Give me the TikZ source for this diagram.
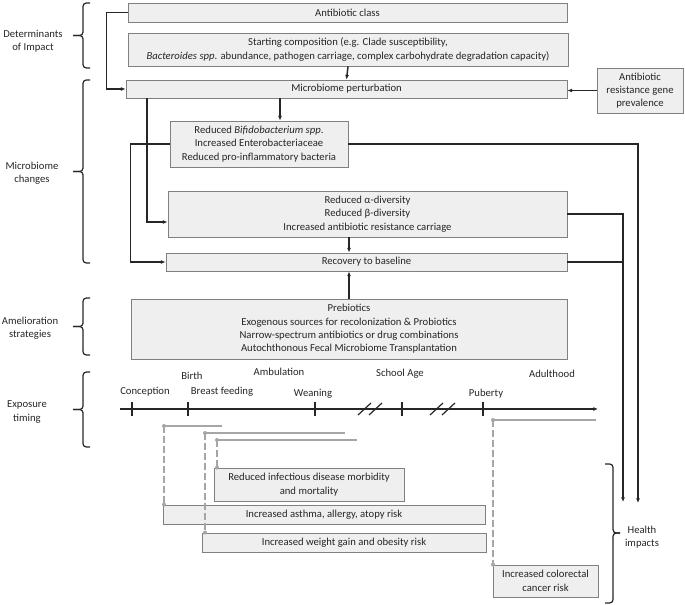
\documentclass[tikz,border=0pt]{standalone}
\usepackage{fontspec}
\setmainfont{Carlito}
\usetikzlibrary{arrows.meta}
\definecolor{boxfill}{HTML}{EFEFEF}
\definecolor{boxline}{HTML}{808080}
\definecolor{ink}{HTML}{262626}
\definecolor{winline}{HTML}{A6A6A6}
\def\u{0.75pt}
\tikzset{
  box/.style={draw=boxline, fill=boxfill, line width=0.6pt, inner sep=0pt, align=center},
  sz/.style 2 args={minimum width=#1*\u, minimum height=#2*\u},
  link/.style={draw=ink, line width=1.1pt, -{Latex[length=3.5pt,width=3pt]}},
  plain/.style={draw=ink, line width=1.1pt},
  brk/.style={draw=ink, line width=0.9pt, rounded corners=2.5pt},
  win/.style={draw=winline, line width=1.2pt},
  dot/.style={fill=winline}
}
\begin{document}
\begin{tikzpicture}[x=\u, y=-\u, every node/.style={font=\fontsize{8}{10}\selectfont, text=ink}]
\useasboundingbox (0,0) rectangle (685,605);

% determinants of impact
\node[box,sz={439}{19}] (abx) at (347.5,12.5) {Antibiotic class};
\node[box,sz={440}{33}] (start) at (348,49.5) {Starting composition (e.g. Clade susceptibility,\\
  \textit{Bacteroides spp}. abundance, pathogen carriage, complex carbohydrate degradation capacity)};
\node[box,sz={441}{18}] (pert) at (346.5,89) {Microbiome perturbation};
\node[box,sz={86}{45}] (arg) at (640,90.5) {Antibiotic\\resistance gene\\prevalence};

% microbiome changes
\node[box,sz={178}{46}] (bifido) at (259,144) {Reduced \textit{Bifidobacterium spp}.\\
  Increased Enterobacteriaceae\\Reduced pro-inflammatory bacteria};
\node[box,sz={399}{46}] (alpha) at (367.5,214) {Reduced α-diversity\\Reduced β-diversity\\
  Increased antibiotic resistance carriage};
\node[box,sz={401}{18}] (rec) at (366.5,262) {Recovery to baseline};

% amelioration
\node[box,sz={436}{60}] (amel) at (349,329) {Prebiotics\\
  Exogenous sources for recolonization \& Probiotics\\
  Narrow-spectrum antibiotics or drug combinations\\
  Autochthonous Fecal Microbiome Transplantation};

% health impacts
\node[box,sz={190}{33}] (infect) at (309,484.5) {Reduced infectious disease morbidity\\and mortality};
\node[box,sz={322}{19}] (asthma) at (324,514.5) {Increased asthma, allergy, atopy risk};
\node[box,sz={284}{19}] (weight) at (344,542.5) {Increased weight gain and obesity risk};
\node[box,sz={105}{32}] (crc) at (545.5,581) {Increased colorectal\\cancer risk};

% side labels and braces
\node (det) at (33,41) [align=center] {Determinants\\of Impact};
\node (mchg) at (32,173) [align=center] {Microbiome\\changes};
\node (amlab) at (30,328) [align=center] {Amelioration\\strategies};
\node (exlab) at (27,412) [align=center] {Exposure\\timing};
\node (hlab) at (642,537) [align=center] {Health\\impacts};
\foreach \a/\b in {3/68,80/263,298/355,372/447} {
  \draw[brk] (90,\a) -- (83,\a) -- (83,{(\a+\b)/2}) -- (73,{(\a+\b)/2});
  \draw[brk] (90,\b) -- (83,\b) -- (83,{(\a+\b)/2}) -- (73,{(\a+\b)/2});
}
\draw[brk] (605,464) -- (613,464) -- (613,533) -- (620,533);
\draw[brk] (605,603) -- (613,603) -- (613,533) -- (620,533);

% connectors
\coordinate (c1) at (147,222);
\coordinate (c2) at (280,0);
\coordinate (h1) at (623,502);
\coordinate (h2) at (638,503);
\draw[link] (abx.west) -- ++(-21,0) |- (pert.west);
\draw[link] (start.south) -- (pert.north);
\draw[link] (arg.west) -- (arg.west -| pert.east);
\draw[link] (c2 |- pert.south) -- (c2 |- bifido.north);
\draw[link] (c1 |- pert.south) -- (c1) -- (c1 -| alpha.west);
\draw[link] (bifido.west) -- ++(-39,0) |- (rec.west);
\draw[link] (amel.north |- alpha.south) -- (amel.north |- rec.north);
\draw[link] (amel.north) -- (amel.north |- rec.south);
\draw[link] (bifido.east) -| (h2);
\draw[link] (alpha.east) -| (h1);
\draw[plain] (rec.east) -- (rec.east -| h1);

% timeline
\coordinate (t0) at (120,409);
\coordinate (t1) at (598,409);
\draw[link, line width=0.9pt] (t0) -- (t1);
\foreach \x in {132,188,315,402,483}
  \draw[plain, line width=0.9pt] (\x,402) -- (\x,416);
\foreach \x in {358,369,430,442}
  \draw[plain, line width=0.9pt] (\x,415) -- (\x+13,403);
\node (conc) at (145,392) {Conception};
\node (birth) at (192,376) {Birth};
\node (bfeed) at (222,392) {Breast feeding};
\node (amb) at (279,372) {Ambulation};
\node (wean) at (313,394) {Weaning};
\node (school) at (400,374) {School Age};
\node (adult) at (552,374) {Adulthood};
\node (pub) at (486,394) {Puberty};

% exposure windows
\coordinate (w1) at (164,426);
\coordinate (w2) at (205,433);
\coordinate (w3) at (217,440);
\coordinate (w4) at (493,420);
\draw[win] (w1) -- ++(58,0);
\draw[win] (w2) -- ++(140,0);
\draw[win] (w3) -- ++(140,0);
\draw[win] (w4) -- ++(103,0);
\draw[win, dash pattern=on 5pt off 2.5pt] (w1) -- (w1 |- asthma.north);
\draw[win, dash pattern=on 5pt off 2.5pt] (w2) -- (w2 |- weight.north);
\draw[win, dash pattern=on 5pt off 2.5pt] (w3) -- (w3 |- infect.north);
\draw[win, dash pattern=on 5pt off 2.5pt] (w4) -- (w4 |- crc.north);
\foreach \w/\b in {w1/asthma,w2/weight,w3/infect,w4/crc} {
  \fill[dot] (\w) circle (1.5pt);
  \fill[dot] (\w |- \b.north) circle (1.5pt);
}

\end{tikzpicture}
\end{document}
